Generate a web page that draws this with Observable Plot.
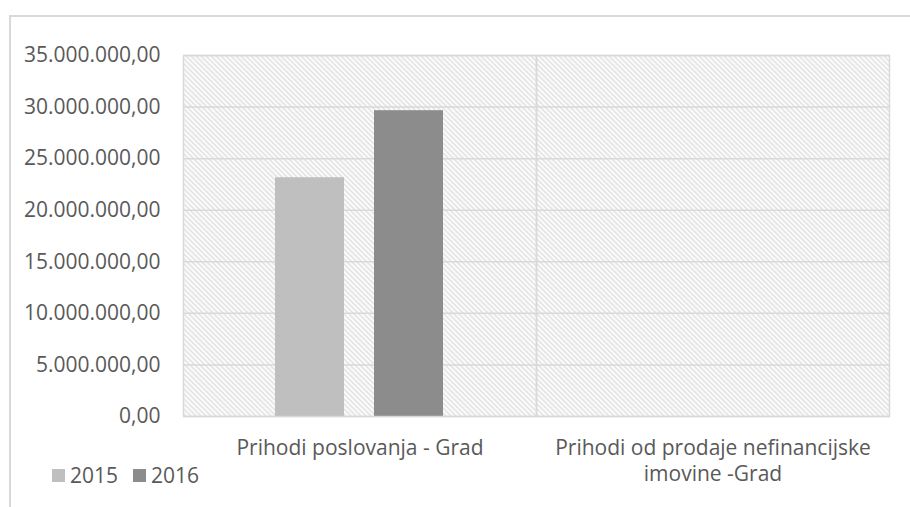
<!DOCTYPE html>
<html>
<head>
<meta charset="utf-8">
<script src="https://cdn.jsdelivr.net/npm/d3@7"></script>
<script src="https://cdn.jsdelivr.net/npm/@observablehq/plot@0.6"></script>
<style>
  html, body { margin: 0; padding: 0; background: #fff; overflow: hidden; }
  #wrap { position: relative; width: 910px; height: 507px; overflow: hidden; }
  #border { position: absolute; left: 9px; top: 15px; width: 1000px; height: 700px; border: 2px solid #d9d9d9; box-sizing: border-box; }
  #chart { position: absolute; left: 0; top: 0; }
  #legend { position: absolute; left: 52px; top: 461px; font-family: "Open Sans", sans-serif; font-size: 21px; color: #595959; display: flex; align-items: center; }
  #legend .item { display: flex; align-items: center; margin-right: 15px; }
  #legend .sw { width: 13px; height: 13px; margin-right: 5px; }
</style>
</head>
<body>
<div id="wrap">
  <div id="border"></div>
  <div id="chart"></div>
  <div id="legend"></div>
</div>
<script>
const categories = ["Prihodi poslovanja - Grad", "Prihodi od prodaje nefinancijske imovine -Grad"];
const categoryLabels = ["Prihodi poslovanja - Grad", "Prihodi od prodaje nefinancijske\nimovine -Grad"];
const years = ["2015", "2016"];
const values2015 = [23150000, 0];
const values2016 = [29650000, 0];
const yTicks = [0, 5000000, 10000000, 15000000, 20000000, 25000000, 30000000, 35000000];
const colors = ["#bfbfbf", "#8c8c8c"];

const data = [];
categories.forEach((c, i) => {
  data.push({category: c, year: years[0], value: values2015[i]});
  data.push({category: c, year: years[1], value: values2016[i]});
});

const loc = d3.formatLocale({decimal: ",", thousands: ".", grouping: [3], currency: ["", ""]});
const fmt = loc.format(",.2f");

const plot = Plot.plot({
  width: 910,
  height: 507,
  marginLeft: 183,
  marginRight: 21,
  marginTop: 55,
  marginBottom: 91,
  style: {fontFamily: "'Open Sans', sans-serif", fontSize: "21px", color: "#595959", background: "transparent"},
  fx: {domain: categories, paddingInner: 0, paddingOuter: 0, label: null},
  x: {domain: years, paddingInner: 0.303, paddingOuter: 0.934, axis: null},
  y: {domain: [0, 35000000], label: null},
  color: {domain: years, range: colors},
  marks: [
    Plot.frame({fill: "url(#hatch)", stroke: "none"}),
    Plot.gridY(yTicks, {stroke: "#d9d9d9", strokeOpacity: 1, strokeWidth: 1.5}),
    Plot.barY(data, {fx: "category", x: "year", y: "value", fill: "year", filter: d => d.value > 0}),
    Plot.frame({stroke: "#d9d9d9", strokeWidth: 1.5}),
    Plot.axisY(yTicks, {tickSize: 0, tickPadding: 23, tickFormat: fmt, fill: "#595959", label: null}),
    Plot.axisFx({anchor: "bottom", tickSize: 0, tickPadding: 21, lineHeight: 1.2, fill: "#595959", label: null,
      tickFormat: d => categoryLabels[categories.indexOf(d)]})
  ]
});

// hatch pattern definition
const svgNS = "http://www.w3.org/2000/svg";
const defs = document.createElementNS(svgNS, "defs");
defs.innerHTML = `<pattern id="hatch" patternUnits="userSpaceOnUse" width="5" height="5">
  <rect width="5" height="5" fill="#ffffff"/>
  <path d="M-1,-1 L6,6 M-1,4 L1,6 M4,-1 L6,1" stroke="#d9d9d9" stroke-width="1.3"/>
</pattern>`;
plot.insertBefore(defs, plot.firstChild);
document.getElementById("chart").appendChild(plot);

const legend = document.getElementById("legend");
years.forEach((y, i) => {
  const item = document.createElement("div");
  item.className = "item";
  item.innerHTML = `<span class="sw" style="background:${colors[i]}"></span><span>${y}</span>`;
  legend.appendChild(item);
});
</script>
</body>
</html>
